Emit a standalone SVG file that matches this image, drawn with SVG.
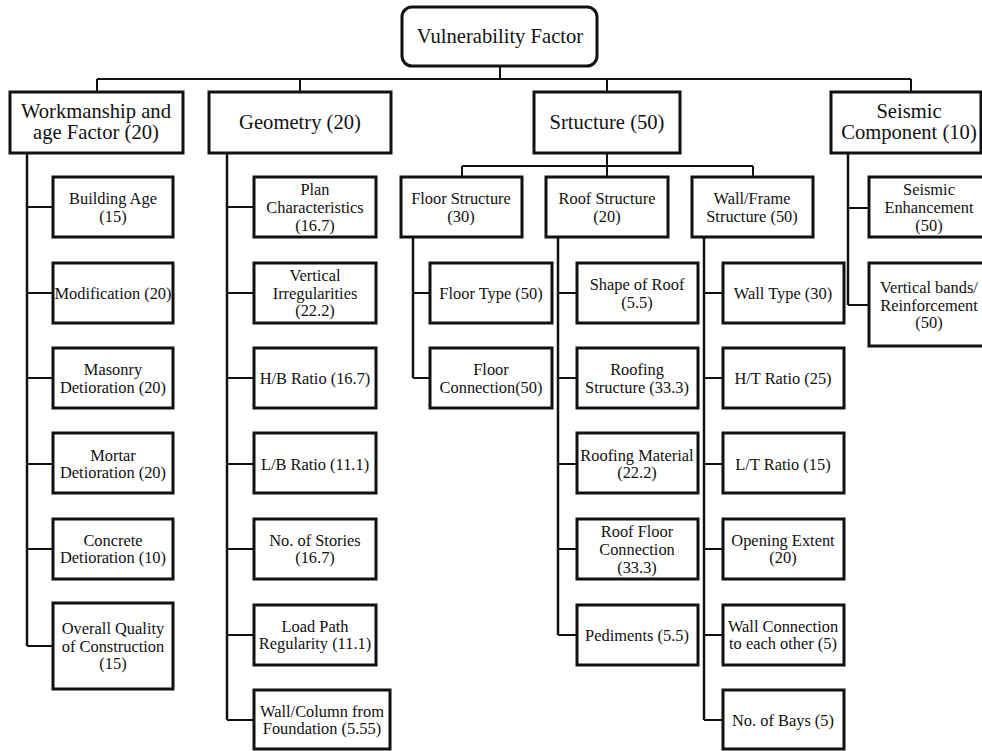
<svg xmlns="http://www.w3.org/2000/svg" width="982" height="751" viewBox="0 0 982 751">
<style>
.box{fill:#fff;stroke:#111;stroke-width:3}
.c{fill:none;stroke:#111;stroke-width:2}
.t{stroke-width:2.5}
text{font-family:"Liberation Serif","Times New Roman",serif;fill:#111;text-anchor:middle;dominant-baseline:central}
.s{font-size:16.4px}
.l{font-size:20.6px}
</style>
<rect width="982" height="751" fill="#fff"/>
<g id="connectors">
<path class="c" d="M500 66V79M97 79H911M97 79V92M300 79V92M607 79V92M911 79V92"/>
<path class="c t" d="M27 153V646"/>
<path class="c" d="M27 207H53M27 293H53M27 378H53M27 464H53M27 549H53M27 646H53"/>
<path class="c t" d="M227 153V720"/>
<path class="c" d="M227 207H254M227 293H254M227 378H254M227 464H254M227 549H254M227 635H254M227 720H254"/>
<path class="c" d="M607 153V166M462 166H753M462 166V177M607 166V177M753 166V177"/>
<path class="c t" d="M413 237V378"/>
<path class="c" d="M413 293H430M413 378H430"/>
<path class="c t" d="M558 237V635"/>
<path class="c" d="M558 293H577M558 378H577M558 464H577M558 549H577M558 635H577"/>
<path class="c t" d="M704 237V720"/>
<path class="c" d="M704 293H723M704 378H723M704 464H723M704 549H723M704 635H723M704 720H723"/>
<path class="c t" d="M848 153V305"/>
<path class="c" d="M848 208H869M848 305H869"/>
</g>
<g id="root"><rect class="box" x="402" y="7" width="195" height="59" rx="10"/><text class="l" x="500" y="36">Vulnerability Factor</text></g>
<g id="workmanship"><rect class="box" x="10" y="92" width="173" height="61"/><text class="l" x="96" y="111">Workmanship and</text><text class="l" x="96" y="132">age Factor (20)</text></g>
<g id="geometry"><rect class="box" x="209" y="92" width="182" height="61"/><text class="l" x="300" y="122">Geometry (20)</text></g>
<g id="structure"><rect class="box" x="534" y="92" width="146" height="61"/><text class="l" x="607" y="122">Srtucture (50)</text></g>
<g id="seismic"><rect class="box" x="831" y="92" width="150" height="61"/><text class="l" x="909" y="111">Seismic</text><text class="l" x="909" y="132">Component (10)</text></g>

<g id="building-age"><rect class="box" x="53" y="177" width="120" height="60"/><text class="s" x="113" y="198">Building Age</text><text class="s" x="113" y="216">(15)</text></g>
<g id="modification"><rect class="box" x="53" y="263" width="120" height="60"/><text class="s" x="113" y="293">Modification (20)</text></g>
<g id="masonry"><rect class="box" x="53" y="348" width="120" height="60"/><text class="s" x="113" y="369">Masonry</text><text class="s" x="113" y="387">Detioration (20)</text></g>
<g id="mortar"><rect class="box" x="53" y="433" width="120" height="60"/><text class="s" x="113" y="455">Mortar</text><text class="s" x="113" y="472">Detioration (20)</text></g>
<g id="concrete"><rect class="box" x="53" y="519" width="120" height="60"/><text class="s" x="113" y="540">Concrete</text><text class="s" x="113" y="557">Detioration (10)</text></g>
<g id="overall"><rect class="box" x="53" y="603" width="120" height="86"/><text class="s" x="113" y="628">Overall Quality</text><text class="s" x="113" y="646">of Construction</text><text class="s" x="113" y="663">(15)</text></g>

<g id="plan"><rect class="box" x="254" y="177" width="122" height="60"/><text class="s" x="315" y="189">Plan</text><text class="s" x="315" y="207">Characteristics</text><text class="s" x="315" y="225">(16.7)</text></g>
<g id="vertical-irr"><rect class="box" x="254" y="263" width="122" height="60"/><text class="s" x="315" y="275">Vertical</text><text class="s" x="315" y="293">Irregularities</text><text class="s" x="315" y="310">(22.2)</text></g>
<g id="hb"><rect class="box" x="254" y="348" width="122" height="60"/><text class="s" x="315" y="378">H/B Ratio (16.7)</text></g>
<g id="lb"><rect class="box" x="254" y="433" width="122" height="60"/><text class="s" x="315" y="464">L/B Ratio (11.1)</text></g>
<g id="stories"><rect class="box" x="254" y="519" width="122" height="60"/><text class="s" x="315" y="540">No. of Stories</text><text class="s" x="315" y="557">(16.7)</text></g>
<g id="loadpath"><rect class="box" x="254" y="605" width="122" height="60"/><text class="s" x="315" y="626">Load Path</text><text class="s" x="315" y="643">Regularity (11.1)</text></g>
<g id="wallcol"><rect class="box" x="254" y="690" width="136" height="59"/><text class="s" x="322" y="711">Wall/Column from</text><text class="s" x="322" y="728">Foundation (5.55)</text></g>

<g id="floor-structure"><rect class="box" x="401" y="177" width="121" height="60"/><text class="s" x="461" y="198">Floor Structure</text><text class="s" x="461" y="216">(30)</text></g>
<g id="floor-type"><rect class="box" x="430" y="263" width="122" height="60"/><text class="s" x="491" y="293">Floor Type (50)</text></g>
<g id="floor-conn"><rect class="box" x="430" y="348" width="122" height="60"/><text class="s" x="491" y="369">Floor</text><text class="s" x="491" y="387">Connection(50)</text></g>

<g id="roof-structure"><rect class="box" x="546" y="177" width="122" height="60"/><text class="s" x="607" y="198">Roof Structure</text><text class="s" x="607" y="216">(20)</text></g>
<g id="shape-roof"><rect class="box" x="577" y="263" width="121" height="60"/><text class="s" x="637" y="284">Shape of Roof</text><text class="s" x="637" y="302">(5.5)</text></g>
<g id="roofing-structure"><rect class="box" x="577" y="348" width="121" height="60"/><text class="s" x="637" y="369">Roofing</text><text class="s" x="637" y="387">Structure (33.3)</text></g>
<g id="roofing-material"><rect class="box" x="577" y="433" width="121" height="60"/><text class="s" x="637" y="455">Roofing Material</text><text class="s" x="637" y="472">(22.2)</text></g>
<g id="roof-floor"><rect class="box" x="577" y="519" width="121" height="60"/><text class="s" x="637" y="531">Roof Floor</text><text class="s" x="637" y="549">Connection</text><text class="s" x="637" y="567">(33.3)</text></g>
<g id="pediments"><rect class="box" x="577" y="605" width="121" height="60"/><text class="s" x="637" y="635">Pediments (5.5)</text></g>

<g id="wall-frame"><rect class="box" x="692" y="177" width="121" height="60"/><text class="s" x="752" y="198">Wall/Frame</text><text class="s" x="752" y="216">Structure (50)</text></g>
<g id="wall-type"><rect class="box" x="723" y="263" width="121" height="60"/><text class="s" x="783" y="293">Wall Type (30)</text></g>
<g id="ht"><rect class="box" x="723" y="348" width="121" height="60"/><text class="s" x="783" y="378">H/T Ratio (25)</text></g>
<g id="lt"><rect class="box" x="723" y="433" width="121" height="60"/><text class="s" x="783" y="464">L/T Ratio (15)</text></g>
<g id="opening"><rect class="box" x="723" y="519" width="121" height="60"/><text class="s" x="783" y="540">Opening Extent</text><text class="s" x="783" y="557">(20)</text></g>
<g id="wall-conn"><rect class="box" x="723" y="605" width="121" height="60"/><text class="s" x="783" y="626">Wall Connection</text><text class="s" x="783" y="643">to each other (5)</text></g>
<g id="bays"><rect class="box" x="723" y="690" width="121" height="59"/><text class="s" x="783" y="720">No. of Bays (5)</text></g>

<g id="seismic-enh"><rect class="box" x="869" y="177" width="122" height="60"/><text class="s" x="929" y="189">Seismic</text><text class="s" x="929" y="207">Enhancement</text><text class="s" x="929" y="225">(50)</text></g>
<g id="vertical-bands"><rect class="box" x="869" y="263" width="122" height="83"/><text class="s" x="929" y="287">Vertical bands/</text><text class="s" x="929" y="305">Reinforcement</text><text class="s" x="929" y="322">(50)</text></g>
</svg>
